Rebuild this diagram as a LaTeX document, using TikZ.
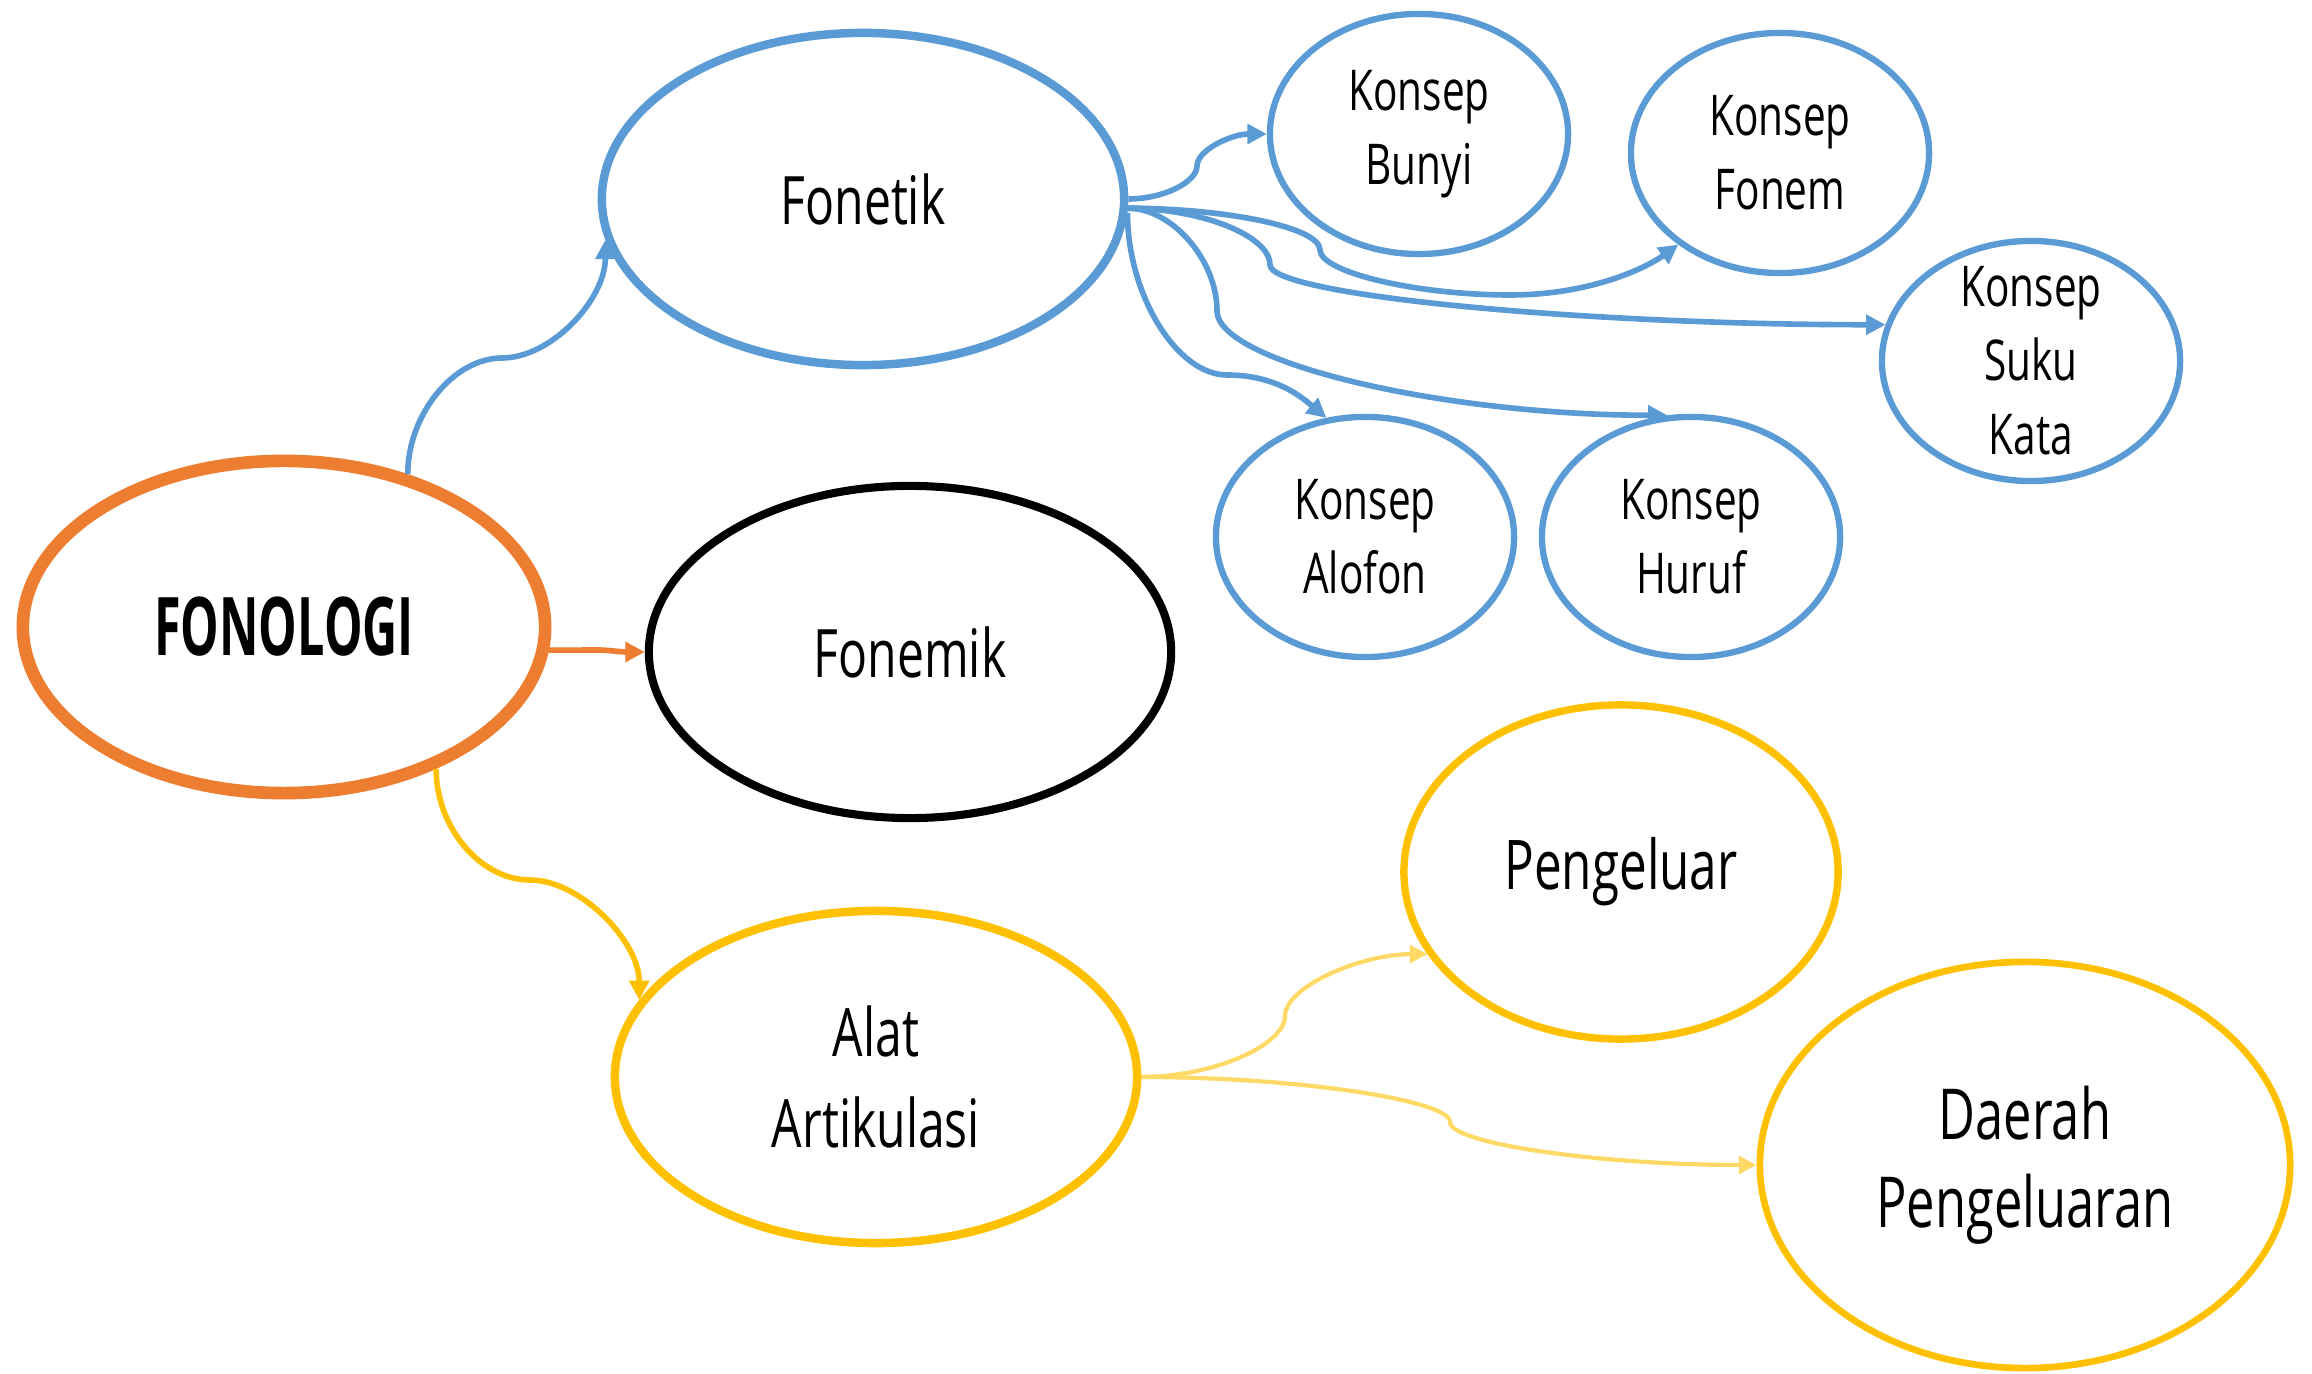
\documentclass[tikz,border=0pt]{standalone}
\usepackage{fontspec}
\setmainfont{Open Sans}[FakeStretch=0.72]
\newfontfamily\bigfont{Open Sans}[FakeStretch=0.6]
\usetikzlibrary{arrows.meta,shapes.geometric}
\definecolor{cOrange}{HTML}{ED7D31}
\definecolor{cBlue}{HTML}{5B9BD5}
\definecolor{cGold}{HTML}{FFC000}
\definecolor{cLight}{HTML}{FFD966}
\tikzset{
  base/.style={ellipse, inner xsep=0pt, inner ysep=-20pt, align=center, text=black, fill=white},
  mainnode/.style={base, minimum width=5.22cm, minimum height=3.32cm, line width=2.4pt,
    font=\fontsize{19}{26}\selectfont},
  konsep/.style={base, draw=cBlue, line width=1.8pt, minimum width=2.98cm, minimum height=2.4cm,
    font=\fontsize{16}{21}\selectfont},
  bluearrow/.style={draw=cBlue, line width=1.6pt, -{Triangle[length=5.5pt,width=5.5pt]}},
  orangearrow/.style={draw=cOrange, line width=1.6pt, -{Triangle[length=5.5pt,width=5.5pt]}},
  goldarrow/.style={draw=cGold, line width=1.6pt, -{Triangle[length=5.5pt,width=5.5pt]}},
  lightarrow/.style={draw=cLight, line width=1.2pt, -{Triangle[length=5pt,width=5pt]}},
}
\begin{document}
\begin{tikzpicture}[x=0.01cm,y=0.01cm]
\useasboundingbox (0,0) rectangle (2312,-1374);
% nodes
\node[mainnode, draw=cOrange, line width=3.6pt, font=\bigfont\bfseries\fontsize{23}{28}\selectfont] (fonologi) at (284,-627) {FONOLOGI};
\node[mainnode, draw=cBlue] (fonetik) at (863,-199) {Fonetik};
\node[mainnode, draw=black, line width=2.3pt] (fonemik) at (910,-652) {Fonemik};
\node[mainnode, draw=cGold] (alat) at (876,-1077) {Alat\\Artikulasi};
\node[konsep] (bunyi) at (1419,-134) {Konsep\\Bunyi};
\node[konsep] (fonem) at (1780,-153) {Konsep\\Fonem};
\node[konsep] (suku) at (2031,-361) {Konsep\\Suku\\Kata};
\node[konsep] (alofon) at (1365,-537) {Konsep\\Alofon};
\node[konsep] (huruf) at (1691,-537) {Konsep\\Huruf};
\node[base, draw=cGold, line width=2.1pt, minimum width=4.34cm, minimum height=3.34cm,
  font=\fontsize{19.5}{26}\selectfont] (pengeluar) at (1621,-872) {Pengeluar};
\node[base, draw=cGold, line width=1.9pt, minimum width=5.30cm, minimum height=4.06cm,
  font=\fontsize{20}{25}\selectfont] (daerah) at (2025,-1165) {Daerah\\Pengeluaran};
% mid points
\coordinate (m1) at (502,-358);
\coordinate (m2) at (530,-880);
\coordinate (m3) at (1197,-166);
\coordinate (m4) at (1320,-250);
\coordinate (m5) at (1510,-295);
\coordinate (m6) at (1270,-265);
\coordinate (m7) at (1227,-375);
\coordinate (m8) at (1217,-311);
\coordinate (m9) at (1285,-1016);
\coordinate (m10) at (1450,-1122);
\coordinate (m11) at (598,-650);
% connectors
\draw[bluearrow] (fonologi.51) to[out=90,in=180,out distance=0.6cm,in distance=0.48cm] (m1)
  to[out=0,in=-90,out distance=0.49cm,in distance=0.6cm] (fonetik.189);
\draw[orangearrow] (fonologi.-5) to[out=0,in=180,out distance=0.25cm,in distance=0.1cm] (m11)
  to[out=0,in=180,out distance=0.1cm,in distance=0.25cm] (fonemik.west);
\draw[goldarrow] (fonologi.-43) to[out=-90,in=180,out distance=0.58cm,in distance=0.5cm] (m2)
  to[out=0,in=90,out distance=0.5cm,in distance=0.59cm] (alat.162);
\draw[bluearrow] (fonetik.east) to[out=0,in=-90,out distance=0.35cm,in distance=0.16cm] (m3)
  to[out=90,in=180,out distance=0.16cm,in distance=0.35cm] (bunyi.west);
\draw[bluearrow] (fonetik.-2) to[out=0,in=90,out distance=0.96cm,in distance=0.23cm] (m4)
  to[out=-90,in=180,out distance=0.22cm,in distance=0.95cm] (m5)
  to[out=0,in=216,out distance=0.8cm,in distance=0.4cm] (fonem.222);
\draw[bluearrow] (fonetik.-2) to[out=0,in=90,out distance=0.71cm,in distance=0.3cm] (m6)
  to[out=-90,in=180,out distance=0.3cm,in distance=3.06cm] (suku.166);
\draw[bluearrow] (fonetik.-3) to[out=-90,in=180,out distance=0.82cm,in distance=0.5cm] (m7)
  to[out=0,in=140,out distance=0.5cm,in distance=0.3cm] (alofon.108);
\draw[bluearrow] (fonetik.-2) to[out=0,in=90,out distance=0.44cm,in distance=0.51cm] (m8)
  to[out=-90,in=180,out distance=0.51cm,in distance=2.25cm] (huruf.101);
\draw[lightarrow] (alat.east) to[out=0,in=-90,out distance=0.72cm,in distance=0.29cm] (m9)
  to[out=90,in=180,out distance=0.29cm,in distance=0.67cm] (pengeluar.203);
\draw[lightarrow] (alat.east) to[out=0,in=90,out distance=1.54cm,in distance=0.22cm] (m10)
  to[out=-90,in=180,out distance=0.22cm,in distance=1.54cm] (daerah.west);
\end{tikzpicture}
\end{document}
